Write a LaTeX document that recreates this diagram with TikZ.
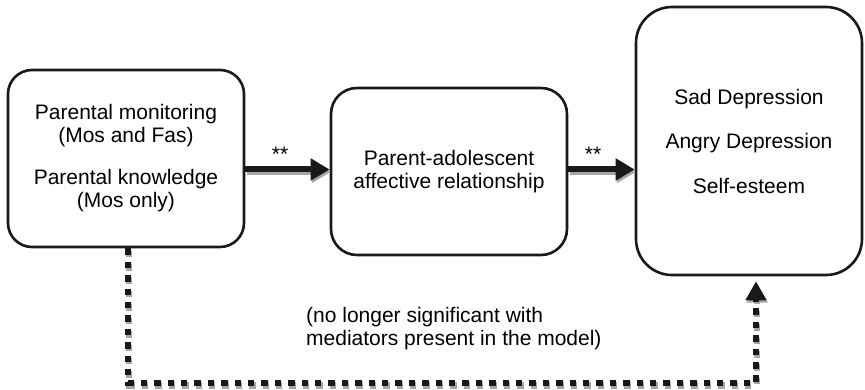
\documentclass[tikz,border=0pt]{standalone}
\usepackage{fontspec}
\setmainfont{Liberation Sans}
\usetikzlibrary{arrows.meta,calc}
\begin{document}
\begin{tikzpicture}[x=1pt,y=-1pt,
  box/.style={draw=black!90,line width=2.6pt,fill=white,inner sep=0pt,align=center,
    font=\fontsize{21}{23}\selectfont},
  lbl/.style={font=\fontsize{21}{23}\selectfont,inner sep=0pt},
  bigarrow/.style={line width=6pt,-{Triangle[length=19pt,width=21pt]}},
  dotline/.style={line width=6.5pt,dash pattern=on 6.5pt off 6.9pt,
    -{Triangle[length=19pt,width=20pt]},shorten >=5pt},
  shade/.style={draw=black!35,color=black!35}]
\useasboundingbox (0,0) rectangle (865,390);

\node[box,rounded corners=24pt,minimum width=236pt,minimum height=177pt] (b1) at (126,158.5)
  {Parental monitoring\\(Mos and Fas)\\[19pt]Parental knowledge\\(Mos only)};
\node[box,rounded corners=26pt,minimum width=236pt,minimum height=167pt] (b2) at (449,171.5)
  {Parent-adolescent\\affective relationship};
\node[box,rounded corners=36pt,minimum width=226pt,minimum height=268pt] (b3) at (749,141)
  {Sad Depression\\[21.5pt]Angry Depression\\[21.5pt]Self-esteem};

\coordinate (ay) at (0,169.5);
\coordinate (c1) at (128,383);
\coordinate (c2) at (756,383);

% shadows
\begin{scope}[transform canvas={shift={(1.2pt,-2.4pt)}}]
  \draw[bigarrow,shade] (b1.east |- ay) -- (b2.west |- ay);
  \draw[bigarrow,shade] (b2.east |- ay) -- (b3.west |- ay);
  \draw[dotline,shade] (b1.south -| c1) -- (c1) -- (c2) -- (b3.south -| c2);
\end{scope}

\draw[bigarrow,black!90] (b1.east |- ay) -- (b2.west |- ay);
\draw[bigarrow,black!90] (b2.east |- ay) -- (b3.west |- ay);
\draw[dotline,black!90] (b1.south -| c1) -- (c1) -- (c2) -- (b3.south -| c2);

\node[lbl] (s1) at (280,154) {**};
\node[lbl] (s2) at (593,154) {**};

\node[lbl,anchor=north west,align=left] (note) at (306,307.5)
  {(no longer significant with\\mediators present in the model)};
\end{tikzpicture}
\end{document}
